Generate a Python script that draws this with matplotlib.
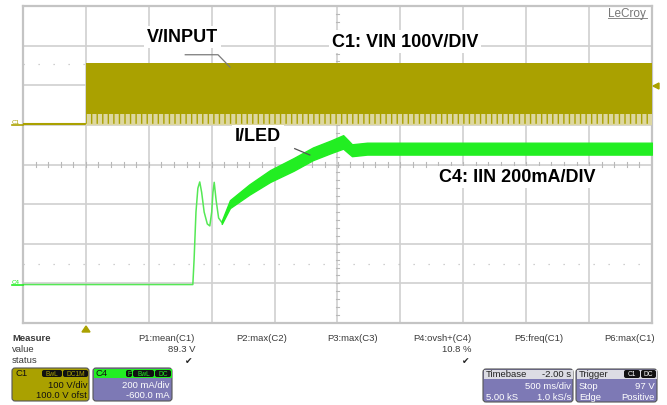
import numpy as np
import matplotlib
matplotlib.use("Agg")
import matplotlib.pyplot as plt
from matplotlib.patches import FancyBboxPatch, Rectangle, Polygon

plt.rcParams['font.family'] = ['Liberation Sans', 'DejaVu Sans']
plt.rcParams['hatch.linewidth'] = 1.0

# ---------------- data (in screen divisions: x 0..10, y 0..8) ----------------
# C1 (VIN) : flat baseline, then dense switching band after the step
c1_base_x = [0.0, 1.0]
c1_base_y = [5.02, 5.02]
c1_band_x = [1.0, 10.0]
c1_band_top = [6.57, 6.57]
c1_band_dense_bottom = [5.27, 5.27]
c1_band_fringe_bottom = [5.02, 5.02]

# C4 (IIN) : thin trace with start-up double peak
c4_thin_x = [0.0, 2.70, 2.72, 2.75, 2.78, 2.81, 2.84, 2.88, 2.93, 2.97,
             3.00, 3.02, 3.04, 3.07, 3.11, 3.16]
c4_thin_y = [0.97, 0.97, 1.60, 2.80, 3.40, 3.56, 3.30, 2.80, 2.50, 2.45,
             2.80, 3.30, 3.55, 3.10, 2.65, 2.54]
# C4 ramp + steady band (center and half thickness)
c4_band_x = [3.16, 3.29, 3.60, 3.93, 4.30, 4.61, 4.90, 5.09, 5.17, 5.23, 5.47, 10.0]
c4_band_c = [2.54, 3.00, 3.37, 3.71, 4.00, 4.27, 4.45, 4.57, 4.45, 4.36, 4.40, 4.40]
c4_band_h = [0.04, 0.10, 0.13, 0.15, 0.16, 0.16, 0.16, 0.17, 0.16, 0.15, 0.15, 0.15]

meas_labels = ["P1:mean(C1)", "P2:max(C2)", "P3:max(C3)", "P4:ovsh+(C4)", "P5:freq(C1)", "P6:max(C1)"]
meas_values = ["89.3 V", "", "", "10.8 %", "", ""]
meas_status = [True, False, False, True, False, False]

OLIVE = "#aaa100"
OLIVE_LIGHT = "#ddd7a0"
GREEN = "#22ee22"
GREEN_THIN = "#55e855"
PURPLE = "#7d79b5"
GRID = "#d0d0d0"

W, H = 667, 406
fig = plt.figure(figsize=(W / 100, H / 100), dpi=100)
fig.patch.set_facecolor("white")

# main scope axes (pixel box 23..652 x 7..324)
L, R, T, B = 23, 652, 7, 324
ax = fig.add_axes([L / W, 1 - B / H, (R - L) / W, (B - T) / H])
ax.set_xlim(0, 10)
ax.set_ylim(0, 8)
ax.set_xticks([])
ax.set_yticks([])
for s in ax.spines.values():
    s.set_color("#c4c4c4")
    s.set_linewidth(1.6)

for gx in range(1, 10):
    ax.axvline(gx, color=GRID, lw=1.2, zorder=0)
for gy in range(1, 8):
    ax.axhline(gy, color=GRID, lw=1.2, zorder=0)
# minor ticks on centre cross
for ty in np.arange(0.2, 8, 0.2):
    ax.plot([4.97, 5.03], [ty, ty], color="#b8b8b8", lw=0.8, zorder=0)
for tx in np.arange(0.2, 10, 0.2):
    ax.plot([tx, tx], [3.94, 4.06], color="#b8b8b8", lw=0.8, zorder=0)
# dotted reference levels
ax.axhline(6.54, color="#c0c0c0", lw=0.9, ls=(0, (1, 11)), zorder=0)
ax.axhline(1.50, color="#c0c0c0", lw=0.9, ls=(0, (1, 11)), zorder=0)

# C1 trace
ax.plot(c1_base_x, c1_base_y, color=OLIVE, lw=1.5, zorder=3)
ax.fill_between(c1_band_x, c1_band_fringe_bottom, c1_band_top, facecolor=OLIVE_LIGHT,
                edgecolor=OLIVE, hatch="|||", lw=0, zorder=3)
ax.fill_between(c1_band_x, c1_band_dense_bottom, c1_band_top, color=OLIVE, lw=0, zorder=3)
ax.plot(c1_band_x, c1_band_fringe_bottom, color=OLIVE_LIGHT, lw=1.0, zorder=3)

# C4 trace
ax.plot(c4_thin_x, c4_thin_y, color=GREEN_THIN, lw=1.1, zorder=4)
c4c = np.array(c4_band_c)
c4h = np.array(c4_band_h)
ax.fill_between(c4_band_x, c4c - c4h, c4c + c4h, color=GREEN, lw=1.0, edgecolor=GREEN, zorder=4)

# annotations
txt_kw = dict(fontsize=13, fontweight="bold", color="black", ha="center", va="center", zorder=6,
              bbox=dict(facecolor="white", edgecolor="none", pad=2))
ax.text(2.54, 7.22, "V/INPUT", **txt_kw)
ax.text(6.07, 7.10, "C1: VIN 100V/DIV", **txt_kw)
ax.text(3.74, 4.72, "I/LED", **txt_kw)
ax.text(7.85, 3.69, "C4: IIN 200mA/DIV", **txt_kw)
ax.plot([2.58, 3.10, 3.29], [6.77, 6.77, 6.46], color="#7a7a7a", lw=0.9, zorder=7)
ax.plot([4.32, 4.56], [4.40, 4.24], color="#555555", lw=0.9, zorder=7)

# ---------------- overlay in pixel coordinates ----------------
ov = fig.add_axes([0, 0, 1, 1], zorder=10)
ov.set_xlim(0, W)
ov.set_ylim(H, 0)
ov.axis("off")
ov.patch.set_alpha(0)

# LeCroy logo
ov.text(627, 14, "LeCroy", fontsize=8.5, color="#777777", ha="center", va="center")
ov.plot([608, 647], [19, 19], color="#888888", lw=0.7)

# channel markers
ov.text(16, 123, "C1", fontsize=4.5, color=OLIVE, ha="center", va="center")
ov.plot([12, 23], [126, 126], color=OLIVE, lw=1.2)
ov.text(16, 283, "C4", fontsize=4.5, color=GREEN, ha="center", va="center")
ov.plot([12, 23], [286, 286], color=GREEN, lw=1.2)
ov.add_patch(Polygon([[82, 333], [90, 333], [86, 327]], closed=True, color=OLIVE))
ov.add_patch(Polygon([[653, 87], [659, 84], [659, 90]], closed=True, color=OLIVE))

# measurement table
sm = dict(fontsize=6.8, color="#3a3a3a", va="center")
ov.text(12, 339, "Measure", fontweight="bold", ha="left", **sm)
ov.text(12, 350, "value", ha="left", **sm)
ov.text(12, 361, "status", ha="left", **sm)
col_x = [195, 287, 378, 472, 563, 655]
for cx, lab, val, st in zip(col_x, meas_labels, meas_values, meas_status):
    ov.text(cx, 339, lab, ha="right", **sm)
    if val:
        ov.text(cx, 350, val, ha="right", **sm)
    if st:
        ov.text(cx - 6, 362, "\u2714", ha="center", fontsize=6.5, color="#222222", va="center",
                family="DejaVu Sans")


def box(x0, y0, x1, y1, fc):
    ov.add_patch(FancyBboxPatch((x0, y0), x1 - x0, y1 - y0,
                                boxstyle="round,pad=0,rounding_size=3",
                                fc=fc, ec="#555555", lw=0.8))


def tag(x0, x1, y0, y1, text, tc):
    ov.add_patch(FancyBboxPatch((x0, y0), x1 - x0, y1 - y0,
                                boxstyle="round,pad=0,rounding_size=2",
                                fc="#111111", ec="none"))
    ov.text((x0 + x1) / 2, (y0 + y1) / 2, text, fontsize=4.8, color=tc,
            ha="center", va="center")


bt = dict(fontsize=6.8, va="center")
# C1 box
box(12, 369, 89, 402, OLIVE)
ov.text(16, 374, "C1", ha="left", color="#111111", **bt)
tag(42, 62, 371, 378, "BwL", OLIVE)
tag(63, 88, 371, 378, "DC1M", OLIVE)
ov.text(87, 386, "100 V/div", ha="right", color="#111111", **bt)
ov.text(87, 396, "100.0 V ofst", ha="right", color="#111111", **bt)

# C4 box
box(93, 369, 172, 402, PURPLE)
ov.add_patch(Rectangle((93.5, 369.5), 78, 9, fc=GREEN, ec="none"))
ov.text(96, 374, "C4", ha="left", color="#111111", **bt)
tag(126, 132, 371, 378, "F", GREEN)
tag(133, 154, 371, 378, "BwL", GREEN)
tag(155, 171, 371, 378, "DC", GREEN)
ov.text(170, 386, "200 mA/div", ha="right", color="white", **bt)
ov.text(170, 396, "-600.0 mA", ha="right", color="white", **bt)

# Timebase box
box(483, 370, 573, 403, PURPLE)
ov.add_patch(Rectangle((483.5, 370.5), 89, 9, fc="#dcdce4", ec="none"))
ov.text(486, 375, "Timebase", ha="left", color="#222222", **bt)
ov.text(571, 375, "-2.00 s", ha="right", color="#222222", **bt)
ov.text(571, 387, "500 ms/div", ha="right", color="white", **bt)
ov.text(486, 398, "5.00 kS", ha="left", color="white", **bt)
ov.text(571, 398, "1.0 kS/s", ha="right", color="white", **bt)

# Trigger box
box(576, 370, 657, 403, PURPLE)
ov.add_patch(Rectangle((576.5, 370.5), 80, 9, fc="#dcdce4", ec="none"))
ov.text(579, 375, "Trigger", ha="left", color="#222222", **bt)
tag(624, 640, 371, 379, "C1", "white")
tag(641, 656, 371, 379, "DC", "white")
ov.text(579, 387, "Stop", ha="left", color="white", **bt)
ov.text(655, 387, "97 V", ha="right", color="white", **bt)
ov.text(579, 398, "Edge", ha="left", color="white", **bt)
ov.text(655, 398, "Positive", ha="right", color="white", **bt)

fig.savefig("out.png", dpi=100, facecolor="white")
